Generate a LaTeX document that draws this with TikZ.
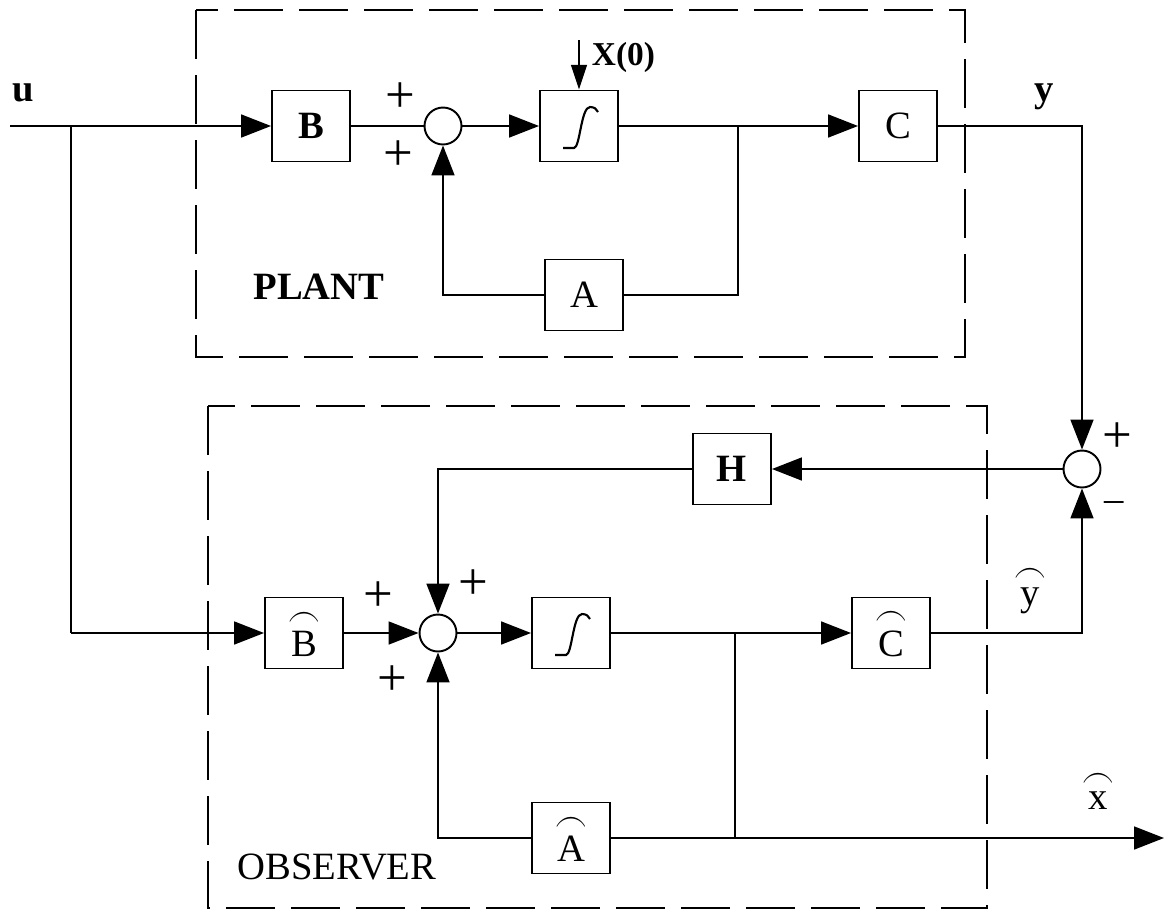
\documentclass[tikz,border=0pt]{standalone}
\usepackage{fontspec}
\usepackage{amsmath}
\usepackage{graphicx}
\setmainfont{Liberation Serif}
\usetikzlibrary{arrows.meta,positioning}
\newcommand{\archat}[1]{$\overset{\raisebox{-5pt}{\scalebox{0.9}[1.1]{$\frown$}}}{\hbox{#1}}$}

\begin{document}
\begin{tikzpicture}[x=0.02cm,y=-0.02cm,line width=1.1pt,
  block/.style={rectangle,draw,minimum width=1.56cm,minimum height=1.42cm,inner sep=0pt,font=\fontsize{22}{24}\selectfont},
  sumnode/.style={circle,draw,minimum size=0.74cm,inner sep=0pt},
  sign/.style={font=\fontsize{30}{30}\selectfont,inner sep=0pt},
  lbl/.style={font=\fontsize{22}{24}\selectfont,inner sep=0pt},
  frame/.style={dash pattern=on 28pt off 9pt},
  arr/.style={-{Triangle[length=17pt,width=13pt]}}]
  \useasboundingbox (0,0) rectangle (1167,910);

  % Plant
  \draw[frame] (196,10) rectangle (965,357);
  \node[block] (B) at (311,126) {\textbf{B}};
  \node[sumnode] (sum1) at (443,126) {};
  \node[block] (int1) at (579,126) {};
  \node[block] (C) at (898,126) {C};
  \node[block] (A) at (584,295) {A};
  \node[lbl] (plant) at (319,287) {\textbf{PLANT}};
  \node[lbl,anchor=west,font=\fontsize{19}{21}\selectfont] (x0) at (591,57) {\textbf{X(0)}};
  \node[lbl] (u) at (23,93) {\textbf{u}};
  \node[lbl] (y) at (1044,97) {\textbf{y}};
  \node[sign] (p1) at (400,98) {+};
  \node[sign] (p2) at (398,156) {+};
  \coordinate (x0in) at (579,40);
  \coordinate (uin) at (10,126);
  \coordinate (ubr) at (71,126);
  \coordinate (pbr) at (738,126);

  % Observer
  \draw[frame] (208,406) rectangle (987,908);
  \node[block] (Bh) at (304,633) {\archat{B}};
  \node[sumnode] (sum2) at (438,633) {};
  \node[block] (int2) at (571,633) {};
  \node[block] (Ch) at (891,633) {\archat{C}};
  \node[block] (Ah) at (571,838) {\archat{A}};
  \node[block] (H) at (732,469) {\textbf{H}};
  \node[sumnode] (sum3) at (1082,469) {};
  \node[lbl] (obs) at (337,867) {OBSERVER};
  \node[lbl] (yh) at (1030,590) {\archat{y}};
  \node[lbl] (xh) at (1098,790) {\archat{x}};
  \node[sign] (p3) at (378,597) {+};
  \node[sign] (p4) at (473,585) {+};
  \node[sign] (p5) at (392,681) {+};
  \node[sign] (p6) at (1117,438) {+};
  \node[sign,font=\fontsize{22}{22}\selectfont] (m1) at (1114,507) {--};
  \coordinate (ubr2) at (71,633);
  \coordinate (obr) at (735,633);
  \coordinate (xout) at (1164,838);

  % integrator symbols
  \draw[line width=1.2pt,shift={(int1.center)}] (-16,22) -- (-5,22) .. controls (1,22) and (2,-19) .. (11,-19) .. controls (15,-19) and (18,-17) .. (19,-14);
  \draw[line width=1.2pt,shift={(int2.center)}] (-16,22) -- (-5,22) .. controls (1,22) and (2,-19) .. (11,-19) .. controls (15,-19) and (18,-17) .. (19,-14);

  % Plant connections
  \draw[arr] (uin) -- (B);
  \draw (B) -- (sum1);
  \draw[arr] (sum1) -- (int1);
  \draw[arr] (int1) -- (C);
  \draw[-{Triangle[length=14pt,width=9pt]}] (x0in) -- (int1);
  \draw (pbr) |- (A);
  \draw[arr] (A) -| (sum1);
  \draw[arr] (C) -| (sum3);

  % Observer connections
  \draw (ubr) -- (ubr2);
  \draw[arr] (ubr2) -- (Bh);
  \draw[arr] (Bh) -- (sum2);
  \draw[arr] (sum2) -- (int2);
  \draw[arr] (int2) -- (Ch);
  \draw (obr) |- (Ah);
  \draw[arr] (Ah) -| (sum2);
  \draw[arr] (Ah) -- (xout);
  \draw[arr] (Ch) -| (sum3);
  \draw[arr] (sum3) -- (H);
  \draw[arr] (H) -| (sum2);
\end{tikzpicture}
\end{document}
